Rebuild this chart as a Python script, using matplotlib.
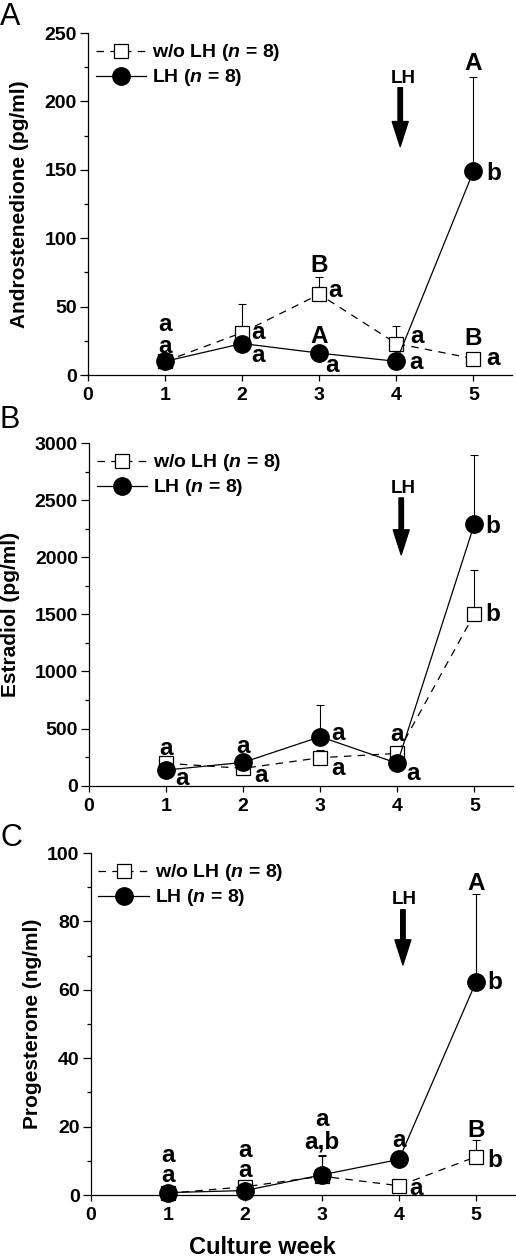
import matplotlib
matplotlib.use("Agg")
import matplotlib.pyplot as plt
from matplotlib.ticker import MultipleLocator

plt.rcParams['font.family'] = ['Liberation Sans', 'DejaVu Sans']
plt.rcParams['font.weight'] = 'bold'
plt.rcParams['mathtext.fontset'] = 'custom'
plt.rcParams['mathtext.it'] = 'Liberation Sans:bold:italic'
plt.rcParams['mathtext.rm'] = 'Liberation Sans:bold'

weeks = [1, 2, 3, 4, 5]

# Panel A: Androstenedione (pg/ml)
andro_ctrl = [10, 31, 59, 23, 12]
andro_ctrl_err = [2, 21, 13, 13, 3]
andro_lh = [10, 23, 16, 10, 149]
andro_lh_err = [2, 3, 3, 2, 69]

# Panel B: Estradiol (pg/ml)
estr_ctrl = [196, 152, 245, 283, 1504]
estr_ctrl_err = [30, 30, 67, 40, 386]
estr_lh = [137, 204, 429, 196, 2293]
estr_lh_err = [30, 30, 278, 30, 599]

# Panel C: Progesterone (ng/ml)
prog_ctrl = [0.5, 2.4, 5.5, 2.7, 11.2]
prog_ctrl_err = [0.3, 0.5, 6.2, 1.2, 4.9]
prog_lh = [0.7, 1.3, 5.9, 10.4, 62.4]
prog_lh_err = [0.3, 0.5, 5.5, 1.0, 25.6]

ylabels = ["Androstenedione (pg/ml)", "Estradiol (pg/ml)", "Progesterone (ng/ml)"]
panel_letters = ["A", "B", "C"]
legend_ctrl = "w/o LH ($n$ = 8)"
legend_lh = "LH ($n$ = 8)"

# annotations: (x, y, text, linespacing)
annot_A = [(1, 29, "a\na", 0.97), (2.2, 31, "a", 1), (2.2, 14, "a", 1),
           (3, 80, "B", 1), (3.21, 62, "a", 1), (3, 28, "A", 1), (3.17, 7, "a", 1),
           (4.27, 28, "a", 1), (4.25, 9, "a", 1),
           (5, 228, "A", 1), (5.26, 147, "b", 1), (5, 27, "B", 1), (5.26, 12, "a", 1)]
annot_B = [(1, 330, "a", 1), (1.2, 64, "a", 1), (2, 342, "a", 1), (2.23, 93, "a", 1),
           (3.23, 459, "a", 1), (3.23, 152, "a", 1), (4, 444, "a", 1), (4.2, 108, "a", 1),
           (5.24, 2270, "b", 1), (5.24, 1496, "b", 1)]
annot_C = [(1, 8.6, "a\na", 0.8), (2, 10.1, "a\na", 0.84),
           (3, 18.7, "a\na,b", 0.98), (4, 16, "a", 1), (4.22, 2, "a", 1),
           (5, 91, "A", 1), (5.24, 62, "b", 1), (5, 19, "B", 1), (5.24, 10.2, "b", 1)]

panels = [
    dict(ctrl=andro_ctrl, ctrl_err=andro_ctrl_err, lh=andro_lh, lh_err=andro_lh_err,
         ymax=250, major=50, minor=25, annot=annot_A, lh_text=(4.09, 217), arrow=(4.05, 210, 167),
         rect=[88/516, 1-375/1257, 424/516, 342/1257], letter_y=1-2/1257, ylab_x=20),
    dict(ctrl=estr_ctrl, ctrl_err=estr_ctrl_err, lh=estr_lh, lh_err=estr_lh_err,
         ymax=3000, major=500, minor=250, annot=annot_B, lh_text=(4.08, 2600), arrow=(4.05, 2519, 2021),
         rect=[89/516, 1-785.7/1257, 424/516, 342.7/1257], letter_y=1-405/1257, ylab_x=11),
    dict(ctrl=prog_ctrl, ctrl_err=prog_ctrl_err, lh=prog_lh, lh_err=prog_lh_err,
         ymax=100, major=20, minor=10, annot=annot_C, lh_text=(4.07, 86.3), arrow=(4.05, 83.4, 67.3),
         rect=[90.7/516, 1-1195/1257, 424/516, 342/1257], letter_y=1-823/1257, ylab_x=33),
]

fig = plt.figure(figsize=(5.16, 12.57), dpi=100)

for i, p in enumerate(panels):
    ax = fig.add_axes(p['rect'])
    zeros = [0] * len(weeks)
    ax.errorbar(weeks, p['ctrl'], yerr=[zeros, p['ctrl_err']], fmt='none', ecolor='black',
                elinewidth=0.8, capsize=3, capthick=0.8, zorder=2, clip_on=False)
    ax.errorbar(weeks, p['lh'], yerr=[zeros, p['lh_err']], fmt='none', ecolor='black',
                elinewidth=0.8, capsize=3, capthick=0.8, zorder=2, clip_on=False)
    ax.plot(weeks, p['ctrl'], linestyle=(0, (6, 5)), color='black', linewidth=0.9,
            marker='s', markersize=10, markerfacecolor='white', markeredgecolor='black',
            markeredgewidth=0.9, zorder=3, clip_on=False, label=legend_ctrl)
    ax.plot(weeks, p['lh'], linestyle='-', color='black', linewidth=0.9,
            marker='o', markersize=12.5, markerfacecolor='black', markeredgecolor='black',
            zorder=4, clip_on=False, label=legend_lh)

    ax.set_xlim(0, 5.5)
    ax.set_ylim(0, p['ymax'])
    ax.set_xticks([0, 1, 2, 3, 4, 5])
    ax.yaxis.set_major_locator(MultipleLocator(p['major']))
    ax.yaxis.set_minor_locator(MultipleLocator(p['minor']))
    for s in ['top', 'right']:
        ax.spines[s].set_visible(False)
    for s in ['left', 'bottom']:
        ax.spines[s].set_linewidth(0.9)
    ax.tick_params(axis='both', which='major', direction='out', width=0.9, labelsize=14)
    ax.tick_params(axis='y', which='major', length=6, pad=2)
    ax.tick_params(axis='x', which='major', length=4, pad=5)
    ax.tick_params(axis='y', which='minor', direction='out', length=3, width=0.9)
    for lab in ax.get_xticklabels() + ax.get_yticklabels():
        lab.set_fontweight('bold')
    ax.set_ylabel(ylabels[i], fontsize=15, fontweight='bold', va='center')
    ax.yaxis.set_label_coords((p['ylab_x'] - p['rect'][0]*516) / 424, 0.5)

    for (x, y, t, ls) in p['annot']:
        ax.text(x, y, t, fontsize=17.5, fontweight='bold', ha='center', va='center',
                multialignment='center', linespacing=ls, zorder=6)

    ax.text(p['lh_text'][0], p['lh_text'][1], "LH", fontsize=13.5, fontweight='bold',
            ha='center', va='center')
    ax.annotate('', xy=(p['arrow'][0], p['arrow'][2]), xytext=(p['arrow'][0], p['arrow'][1]),
                arrowprops=dict(width=3.2, headwidth=11.5, headlength=18, facecolor='black',
                                edgecolor='black', shrink=0))

    leg = ax.legend(loc='upper left', bbox_to_anchor=(0.0, 0.995), frameon=False,
                    fontsize=14, handlelength=2.6, handletextpad=0.3, labelspacing=0.2,
                    borderaxespad=0.0, numpoints=1)
    for t in leg.get_texts():
        t.set_fontweight('bold')

    fig.text(0.0, p['letter_y'], panel_letters[i], fontsize=22, fontweight='normal',
             ha='left', va='top')

fig.text(262/516, 1-1248/1257, "Culture week", fontsize=17, fontweight='bold',
         ha='center', va='center')

fig.savefig("out.png", dpi=100)
